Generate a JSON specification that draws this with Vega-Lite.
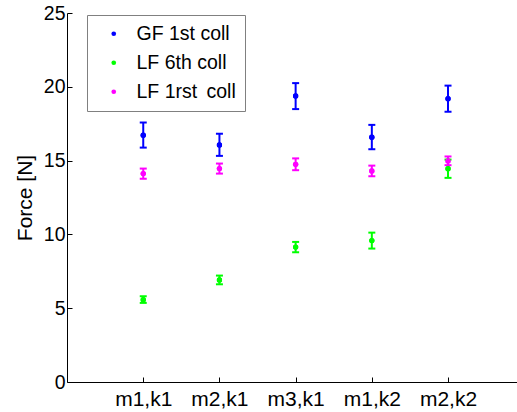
{
  "$schema": "https://vega.github.io/schema/vega-lite/v6.json",
  "width": 450,
  "height": 369,
  "autosize": {"type": "none"},
  "padding": {"left": 67, "top": 13, "right": 0, "bottom": 30},
  "background": "white",
  "config": {
    "view": {"stroke": null},
    "font": "Liberation Sans",
    "axis": {
      "labelFont": "Liberation Sans",
      "labelFontSize": 20,
      "labelColor": "black",
      "titleFont": "Liberation Sans",
      "titleFontSize": 21,
      "titleFontWeight": "normal",
      "titleColor": "black",
      "domainColor": "black",
      "tickColor": "black",
      "grid": false
    },
    "legend": {
      "labelFont": "Liberation Sans",
      "labelFontSize": 19.5,
      "labelColor": "black"
    }
  },
  "data": {
    "values": [
      {"cond": "m1,k1", "series": "GF 1st coll", "mean": 16.72, "lo": 15.88, "hi": 17.58},
      {"cond": "m2,k1", "series": "GF 1st coll", "mean": 16.06, "lo": 15.32, "hi": 16.82},
      {"cond": "m3,k1", "series": "GF 1st coll", "mean": 19.38, "lo": 18.49, "hi": 20.25},
      {"cond": "m1,k2", "series": "GF 1st coll", "mean": 16.59, "lo": 15.77, "hi": 17.42},
      {"cond": "m2,k2", "series": "GF 1st coll", "mean": 19.19, "lo": 18.31, "hi": 20.08},
      {"cond": "m1,k1", "series": "LF 6th coll", "mean": 5.58, "lo": 5.36, "hi": 5.81},
      {"cond": "m2,k1", "series": "LF 6th coll", "mean": 6.91, "lo": 6.62, "hi": 7.21},
      {"cond": "m3,k1", "series": "LF 6th coll", "mean": 9.14, "lo": 8.79, "hi": 9.49},
      {"cond": "m1,k2", "series": "LF 6th coll", "mean": 9.58, "lo": 9.04, "hi": 10.12},
      {"cond": "m2,k2", "series": "LF 6th coll", "mean": 14.45, "lo": 13.83, "hi": 15.07},
      {"cond": "m1,k1", "series": "LF 1rst\u2009 coll", "mean": 14.12, "lo": 13.77, "hi": 14.46},
      {"cond": "m2,k1", "series": "LF 1rst\u2009 coll", "mean": 14.46, "lo": 14.12, "hi": 14.8},
      {"cond": "m3,k1", "series": "LF 1rst\u2009 coll", "mean": 14.75, "lo": 14.35, "hi": 15.15},
      {"cond": "m1,k2", "series": "LF 1rst\u2009 coll", "mean": 14.3, "lo": 13.94, "hi": 14.66},
      {"cond": "m2,k2", "series": "LF 1rst\u2009 coll", "mean": 14.98, "lo": 14.69, "hi": 15.28}
    ]
  },
  "encoding": {
    "x": {
      "field": "cond",
      "type": "ordinal",
      "sort": ["m1,k1", "m2,k1", "m3,k1", "m1,k2", "m2,k2"],
      "scale": {"type": "point", "padding": 0.953, "align": 0.525},
      "axis": {"title": null, "labelAngle": 0, "tickSize": -5, "labelPadding": 11, "labelFontSize": 21, "domainWidth": 1}
    },
    "color": {
      "field": "series",
      "type": "nominal",
      "scale": {"domain": ["GF 1st coll", "LF 6th coll", "LF 1rst\u2009 coll"], "range": ["#0000ff", "#00ff00", "#ff00ff"]},
      "legend": {
        "title": null,
        "orient": "none",
        "legendX": 20,
        "legendY": 2,
        "padding": 9,
        "symbolOffset": 8,
        "symbolSize": 22,
        "symbolType": "circle",
        "symbolStrokeWidth": 0,
        "labelOffset": 13,
        "rowPadding": 8,
        "strokeColor": "#808080",
        "fillColor": "white",
        "labelLimit": 300
      }
    }
  },
  "layer": [
    {
      "mark": {"type": "point", "filled": true, "shape": "circle", "size": 28, "opacity": 1},
      "encoding": {
        "y": {
          "field": "mean",
          "type": "quantitative",
          "scale": {"domain": [0, 25], "nice": false},
          "axis": {"title": "Force [N]", "values": [0, 5, 10, 15, 20, 25], "tickSize": -5, "labelPadding": 7, "labelFontSize": 19.5, "titlePadding": 8}
        }
      }
    },
    {
      "mark": {"type": "rule", "strokeWidth": 2},
      "encoding": {
        "y": {"field": "lo", "type": "quantitative"},
        "y2": {"field": "hi"}
      }
    },
    {
      "mark": {"type": "rule", "strokeWidth": 2, "xOffset": -3.5, "x2Offset": 3.5},
      "encoding": {
        "x2": {"field": "cond"},
        "y": {"field": "lo", "type": "quantitative"}
      }
    },
    {
      "mark": {"type": "rule", "strokeWidth": 2, "xOffset": -3.5, "x2Offset": 3.5},
      "encoding": {
        "x2": {"field": "cond"},
        "y": {"field": "hi", "type": "quantitative"}
      }
    },
    {
      "mark": {"type": "point", "filled": true, "shape": "circle", "size": 28, "opacity": 1},
      "encoding": {
        "y": {"field": "mean", "type": "quantitative"}
      }
    }
  ]
}
